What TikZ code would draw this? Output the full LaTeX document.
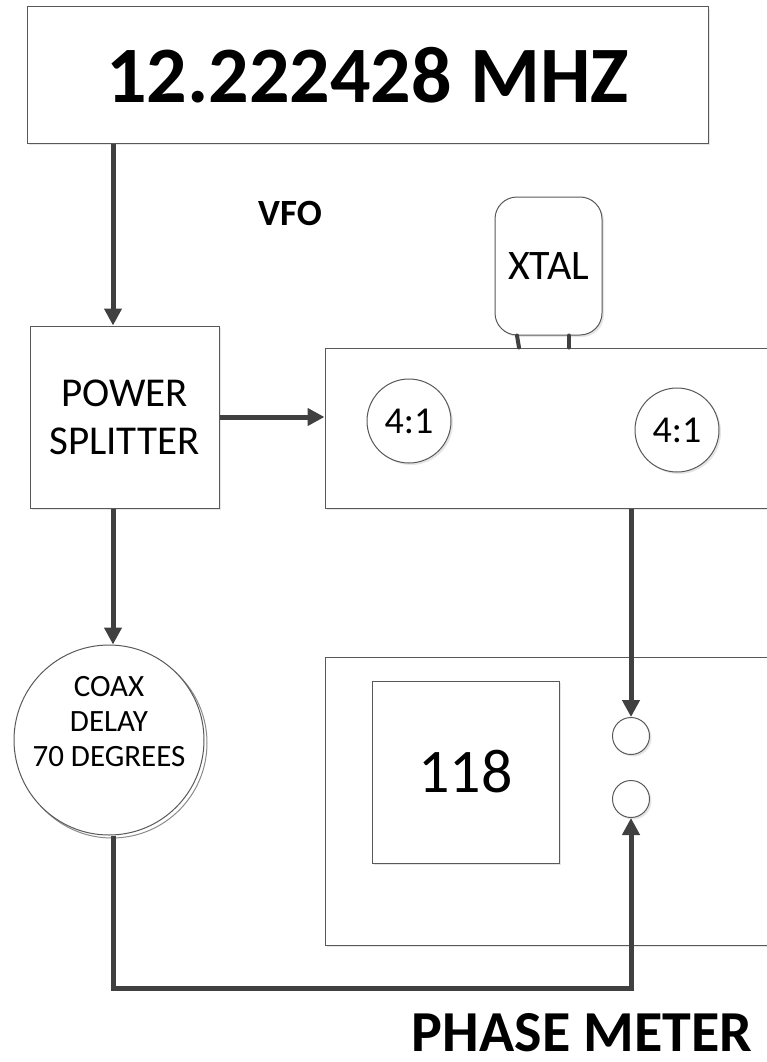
\documentclass[tikz,border=0pt]{standalone}
\usepackage{fontspec}
\setmainfont{Carlito}
\usetikzlibrary{arrows.meta,shadows}
\definecolor{trait}{RGB}{64,64,64}
\definecolor{bord}{RGB}{89,89,89}
\tikzset{
  bloc/.style={draw=bord, line width=1pt, fill=white, inner sep=0pt,
    drop shadow={shadow xshift=2pt, shadow yshift=-2pt, opacity=0.2}},
  rond/.style={bloc, circle},
  fil/.style={draw=trait, line width=5pt, -{Triangle[length=17pt,width=17pt]}},
  patte/.style={draw=trait, line width=4pt, line cap=round}
}

\begin{document}
\begin{tikzpicture}[x=1pt,y=-1pt]
	\useasboundingbox (0,0) rectangle (767,1062);

	% oscillateur
	\node[bloc, minimum width=681pt, minimum height=136pt, font=\fontsize{80}{90}\selectfont\bfseries] (freq) at (367.5,75) {12.222428 MHZ};
	\node[font=\fontsize{37}{40}\selectfont\bfseries] (vfo) at (290,213) {VFO};

	% quartz
	\node[bloc, rounded corners=22pt, minimum width=107pt, minimum height=138pt, font=\fontsize{42}{46}\selectfont] (xtal) at (548.5,266) {XTAL};

	% diviseur de puissance
	\node[bloc, minimum width=189pt, minimum height=182pt, align=center, font=\fontsize{41}{48}\selectfont] (split) at (124.5,417) {POWER\\SPLITTER};

	% diviseur 4:1
	\node[bloc, minimum width=475pt, minimum height=160pt] (div) at (562.5,428) {};
	\foreach \x/\y/\n in {409/421/ra, 677/430/rb}
		\node[rond, minimum size=84pt, font=\fontsize{38}{42}\selectfont] (\n) at (\x,\y) {4:1};

	% pattes
	\foreach \dx/\ex in {-31.5/-29.5, 20.5/20.5}
		\draw[patte] ([xshift=\dx pt]xtal.south) -- ([xshift=\ex pt]xtal.south |- div.north);

	% ligne a retard
	\node[draw=bord, line width=1pt, fill=white, circle, minimum size=190pt,
		copy shadow={shadow xshift=3pt, shadow yshift=-3pt, draw=bord!70}] (coax) at (109,740) {};
	\node[align=center, font=\fontsize{31}{35}\selectfont] (coaxtxt) at ([yshift=18pt]coax.center) {COAX\\DELAY\\70 DEGREES};

	% phasemetre
	\node[bloc, minimum width=475pt, minimum height=288pt] (meter) at (562.5,801) {};
	\node[bloc, minimum width=187pt, minimum height=182pt, font=\fontsize{62}{66}\selectfont] (aff) at (465.5,772) {118};
	\foreach \y/\n in {736/pa, 799/pb}
		\node[rond, minimum size=37pt] (\n) at (631,\y) {};
	\node[anchor=base, inner sep=0pt, text depth=0pt, font=\fontsize{58}{64}\selectfont\bfseries] (titre) at (582,1051) {PHASE METER};

	% liaisons
	\coordinate (axe) at (113,0);
	\coordinate (bas) at (0,988);
	\draw[fil] (freq.south -| axe) -- (split.north -| axe);
	\draw[fil] (split.east) -- (split.east -| div.west);
	\draw[fil] (split.south -| axe) -- (coax.north -| axe);
	\draw[fil] (div.south -| pa) -- (pa.north);
	\draw[fil] (coax.south -| axe) |- (bas -| pb) -- (pb.south);
\end{tikzpicture}
\end{document}
